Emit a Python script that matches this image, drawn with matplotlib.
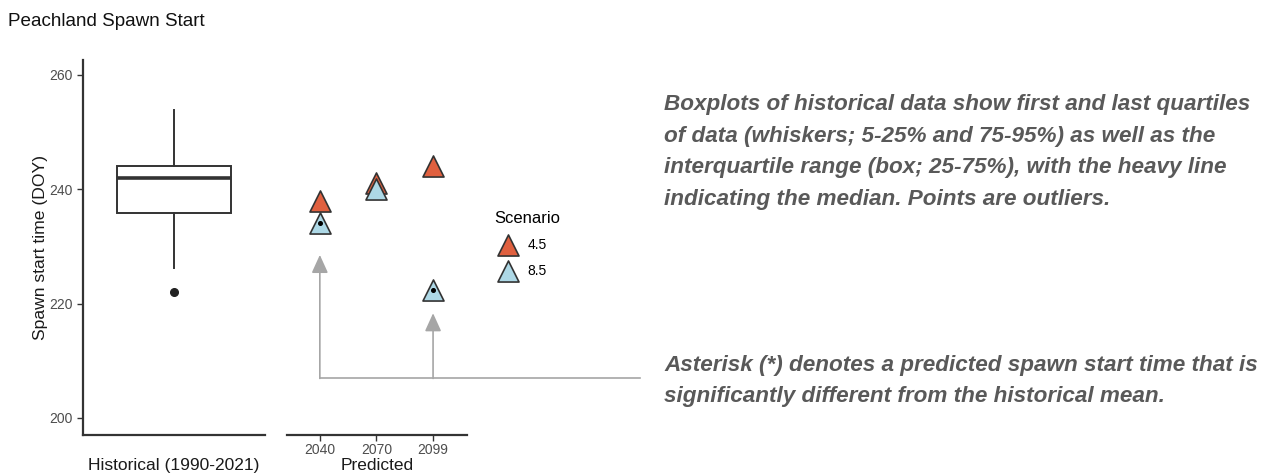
import numpy as np
import matplotlib.pyplot as plt
from matplotlib import transforms

plt.rcParams['font.family'] = ['Liberation Sans', 'DejaVu Sans']

# historical spawn start (DOY) box summary, 1990-2021
hist_q1 = 235.8
hist_med = 242
hist_q3 = 244
hist_whislo = 226.2
hist_whishi = 253.8
hist_outliers = [222]

# predicted spawn start per scenario
years = ['2040', '2070', '2099']
scen_45 = [238, 241, 244]
scen_85 = [234, 240, 222.3]
sig_85 = [True, False, True]
arrow_tips = [228.5, 218.3]
bracket_y = 206.9

red = '#E0603F'
blue = '#ADD8E6'
edge = '#333333'
tick_grey = '#4D4D4D'
ylim = (197.0, 262.6)

fig = plt.figure(figsize=(12.75, 4.76), dpi=100)
ax1 = fig.add_axes([0.0651, 0.0861, 0.1427, 0.788])
ax2 = fig.add_axes([0.2251, 0.0861, 0.1412, 0.788])

stats = [dict(med=hist_med, q1=hist_q1, q3=hist_q3, whislo=hist_whislo,
              whishi=hist_whishi, fliers=hist_outliers)]
ax1.bxp(stats, positions=[1], widths=0.75, showcaps=False, patch_artist=True,
        boxprops=dict(facecolor='white', edgecolor=edge, linewidth=1.4),
        whiskerprops=dict(color=edge, linewidth=1.4),
        medianprops=dict(color=edge, linewidth=2.6),
        flierprops=dict(marker='o', markerfacecolor='#222222',
                        markeredgecolor='#222222', markersize=5.5))
ax1.set_xlim(0.4, 1.6)
ax1.set_ylim(*ylim)
ax1.set_yticks([200, 220, 240, 260])
ax1.set_xticks([])
ax1.set_ylabel('Spawn start time (DOY)', fontsize=12.6, color='#1a1a1a')
ax1.yaxis.set_label_coords(-0.195, 0.5)
ax1.set_xlabel('Historical (1990-2021)', fontsize=12.5, color='#1a1a1a',
               va='center')
ax1.xaxis.set_label_coords(0.5, -0.08)
for s in ['top', 'right']:
    ax1.spines[s].set_visible(False)
for s in ['left', 'bottom']:
    ax1.spines[s].set_color('#333333')
    ax1.spines[s].set_linewidth(1.6)
ax1.tick_params(axis='y', colors='#333333', labelcolor=tick_grey, labelsize=10,
                length=4, width=1)

# predicted panel
x = np.arange(1, len(years) + 1)
ax2.scatter(x, scen_45, marker='^', s=230, c=red, edgecolors=edge,
            linewidths=1.2, zorder=3, label='4.5')
ax2.scatter(x, scen_85, marker='^', s=230, c=blue, edgecolors=edge,
            linewidths=1.2, zorder=4, label='8.5')
for xi, yi, sig in zip(x, scen_85, sig_85):
    if sig:
        ax2.plot(xi, yi, marker='o', markersize=2.6, color='black', zorder=5)

ax2.set_xlim(0.42, 3.6)
ax2.set_ylim(*ylim)
ax2.set_xticks(x)
ax2.set_xticklabels(years)
ax2.set_yticks([])
ax2.set_xlabel('Predicted', fontsize=12.5, color='#1a1a1a', va='center')
ax2.xaxis.set_label_coords(0.5, -0.08)
for s in ['top', 'right', 'left']:
    ax2.spines[s].set_visible(False)
ax2.spines['bottom'].set_color('#333333')
ax2.spines['bottom'].set_linewidth(1.6)
ax2.tick_params(axis='x', colors='#333333', labelcolor=tick_grey, labelsize=10,
                length=4, width=1, pad=1.5)

# arrows pointing at the significant points, joined by a bracket line
sig_x = [xi for xi, sig in zip(x, sig_85) if sig]
arrow_grey = '#A6A6A6'
for xi, tip in zip(sig_x, arrow_tips):
    ax2.annotate('', xy=(xi, tip), xytext=(xi, bracket_y),
                 arrowprops=dict(arrowstyle='-|>,head_length=1.1,head_width=0.5',
                                 color=arrow_grey, lw=1.2, shrinkA=0, shrinkB=0),
                 annotation_clip=False)
trans = transforms.blended_transform_factory(fig.transFigure, ax2.transData)
x_start = ax2.transData.transform((sig_x[0], bracket_y))[0] / fig.bbox.width
ax2.plot([x_start, 640 / 1275], [bracket_y, bracket_y], color=arrow_grey,
         lw=1.2, transform=trans, clip_on=False)

leg = ax2.legend(title='Scenario', loc='upper left', bbox_to_anchor=(1.08, 0.63),
                 frameon=False, fontsize=10, title_fontsize=12,
                 handletextpad=0.4, labelspacing=0.85, markerscale=1.0)
leg._legend_box.align = 'left'

fig.text(8 / 1275, 1 - 22 / 476, 'Peachland Spawn Start', fontsize=13.6,
         color='#111111', va='center', ha='left')

note_kw = dict(fontsize=16.2, fontweight='bold', fontstyle='italic',
               color='#595959', ha='left', va='center', linespacing=1.68)
fig.text(664 / 1275, 1 - 152 / 476,
         'Boxplots of historical data show first and last quartiles\n'
         'of data (whiskers; 5-25% and 75-95%) as well as the\n'
         'interquartile range (box; 25-75%), with the heavy line\n'
         'indicating the median. Points are outliers.', **note_kw)
fig.text(664 / 1275, 1 - 381 / 476,
         'Asterisk (*) denotes a predicted spawn start time that is\n'
         'significantly different from the historical mean.', **note_kw)

fig.savefig('out.png', dpi=100)
